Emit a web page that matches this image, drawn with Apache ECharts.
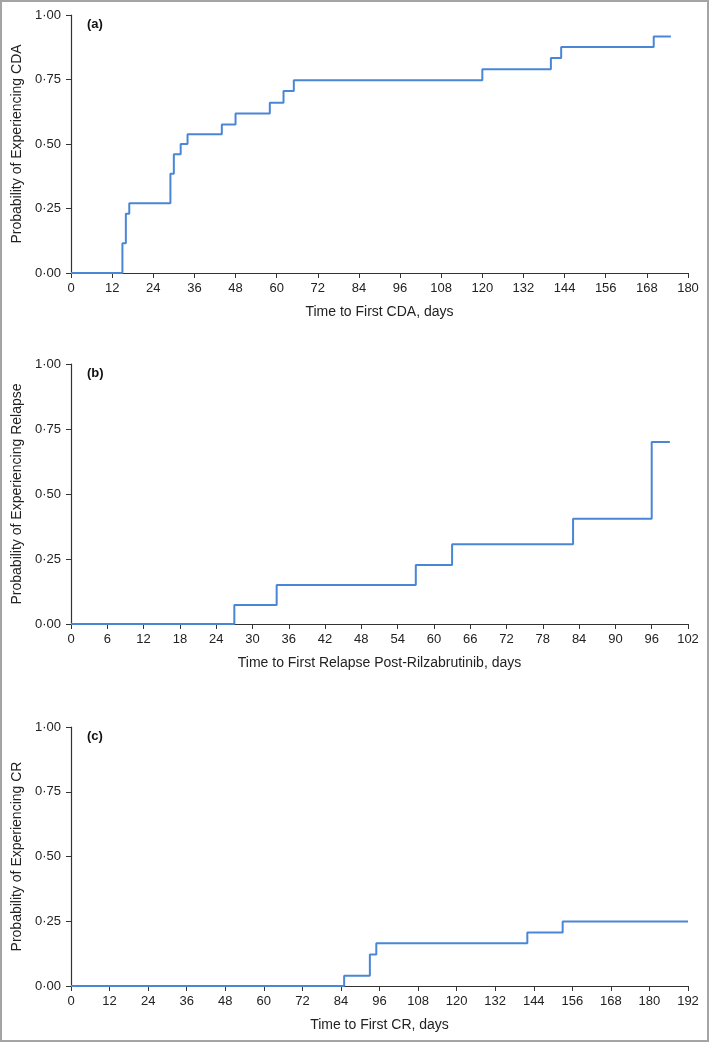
<!DOCTYPE html>
<html>
<head>
<meta charset="utf-8">
<script src="https://cdn.jsdelivr.net/npm/echarts@6/dist/echarts.min.js"></script>
<style>
html,body{margin:0;padding:0;background:#fff;}
#chart{width:709px;height:1042px;}
</style>
</head>
<body>
<div id="chart"></div>
<script>
// Panel (a): Time to first CDA
const cdaDays = [0, 15, 16, 17, 29, 30, 32, 34, 44, 48, 58, 62, 65, 120, 140, 143, 170, 175];
const cdaProb = [0, 0.115, 0.23, 0.27, 0.385, 0.46, 0.50, 0.538, 0.576, 0.618, 0.66, 0.705, 0.747, 0.79, 0.833, 0.876, 0.917, 0.917];
// Panel (b): Time to first relapse post-rilzabrutinib
const relapseDays = [0, 27, 34, 57, 63, 83, 96, 99];
const relapseProb = [0, 0.073, 0.15, 0.227, 0.307, 0.405, 0.70, 0.70];
// Panel (c): Time to first CR
const crDays = [0, 85, 93, 95, 142, 153, 192];
const crProb = [0, 0.04, 0.122, 0.165, 0.207, 0.249, 0.249];

const yTicks = ['0·00', '0·25', '0·50', '0·75', '1·00'];
const panelLabels = ['(a)', '(b)', '(c)'];
const xTitles = ['Time to First CDA, days', 'Time to First Relapse Post-Rilzabrutinib, days', 'Time to First CR, days'];
const yTitles = ['Probability of Experiencing CDA', 'Probability of Experiencing Relapse', 'Probability of Experiencing CR'];
const xMax = [180, 102, 192];
const xInterval = [12, 6, 12];

const panels = [
  {days: cdaDays, prob: cdaProb},
  {days: relapseDays, prob: relapseProb},
  {days: crDays, prob: crProb}
];

const gridPos = [
  {left: 71, top: 15, width: 617, height: 258},
  {left: 71, top: 364, width: 617, height: 260},
  {left: 71, top: 727, width: 617, height: 259}
];

const font = 'Liberation Sans, Arial, sans-serif';
const axisColor = '#333';
const textColor = '#222';
const lineColor = '#4a86d6';

const chart = echarts.init(document.getElementById('chart'), null, {renderer: 'canvas'});

const option = {
  backgroundColor: '#fff',
  animation: false,
  grid: gridPos.map(g => Object.assign({containLabel: false}, g)),
  xAxis: panels.map((p, i) => ({
    type: 'value',
    gridIndex: i,
    min: 0,
    max: xMax[i],
    interval: xInterval[i],
    name: xTitles[i],
    nameLocation: 'middle',
    nameGap: 32,
    nameTextStyle: {fontFamily: font, fontSize: 14, color: textColor},
    axisLine: {show: true, lineStyle: {color: axisColor, width: 1.2}},
    axisTick: {show: true, length: 5, lineStyle: {color: axisColor}},
    axisLabel: {fontFamily: font, fontSize: 13, color: textColor, margin: 9},
    splitLine: {show: false}
  })),
  yAxis: panels.map((p, i) => ({
    type: 'value',
    gridIndex: i,
    min: 0,
    max: 1,
    interval: 0.25,
    name: yTitles[i],
    nameLocation: 'middle',
    nameGap: 47,
    nameTextStyle: {fontFamily: font, fontSize: 14, color: textColor},
    axisLine: {show: true, lineStyle: {color: axisColor, width: 1.2}},
    axisTick: {show: true, length: 5, lineStyle: {color: axisColor}},
    axisLabel: {
      fontFamily: font, fontSize: 13, color: textColor, margin: 10,
      formatter: v => yTicks[Math.round(v / 0.25)]
    },
    splitLine: {show: false}
  })),
  series: panels.map((p, i) => ({
    type: 'line',
    xAxisIndex: i,
    yAxisIndex: i,
    step: 'end',
    showSymbol: false,
    symbol: 'none',
    data: p.days.map((d, k) => [d, p.prob[k]]),
    lineStyle: {color: lineColor, width: 2},
    z: 3
  })),
  graphic: [
    {type: 'rect', shape: {x: 1, y: 1, width: 707, height: 1040}, style: {fill: 'none', stroke: '#a4a4a4', lineWidth: 2}, silent: true}
  ].concat(panelLabels.map((t, i) => ({
    type: 'text',
    left: gridPos[i].left + 16,
    top: gridPos[i].top + 3,
    style: {text: t, fontFamily: font, fontSize: 13, fontWeight: 'bold', fill: '#111'}
  })))
};

chart.setOption(option);
</script>
</body>
</html>
